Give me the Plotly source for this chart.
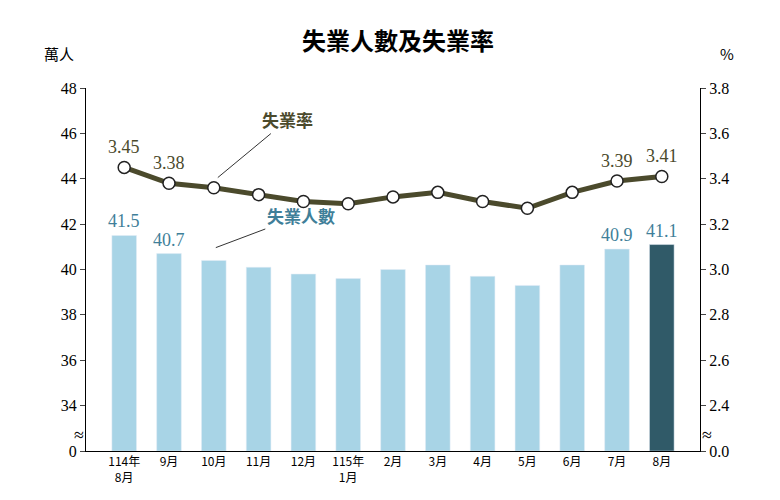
import plotly.graph_objs as go

months = ['114年<br>8月', '9月', '10月', '11月', '12月', '115年<br>1月', '2月', '3月', '4月', '5月', '6月', '7月', '8月']
persons = [41.5, 40.7, 40.4, 40.1, 39.8, 39.6, 40.0, 40.2, 39.7, 39.3, 40.2, 40.9, 41.1]
rate = [3.45, 3.38, 3.36, 3.33, 3.30, 3.29, 3.32, 3.34, 3.30, 3.27, 3.34, 3.39, 3.41]

left_vals = [32, 34, 36, 38, 40, 42, 44, 46, 48]
left_text = ['0', '34', '36', '38', '40', '42', '44', '46', '48']
right_vals = [2.2, 2.4, 2.6, 2.8, 3.0, 3.2, 3.4, 3.6, 3.8]
right_text = ['0.0', '2.4', '2.6', '2.8', '3.0', '3.2', '3.4', '3.6', '3.8']

font = 'Noto Sans CJK TC'
bar_colors = ['#a8d4e6'] * (len(persons) - 1) + ['#305a68']

fig = go.Figure()
fig.add_trace(go.Bar(x=months, y=[p - 32 for p in persons], base=32,
                     marker=dict(color=bar_colors), width=0.55, yaxis='y'))
fig.add_trace(go.Scatter(x=months, y=rate, yaxis='y2', mode='lines+markers',
                         line=dict(color='#4b4a2c', width=5),
                         marker=dict(size=12, color='white', line=dict(color='#222', width=1.5))))

# value labels
for i in [0, 1, 11, 12]:
  fig.add_annotation(x=months[i], y=persons[i], text=f'{persons[i]:.1f}', yref='y',
                     showarrow=False, yshift=14, font=dict(size=18, color='#3f7f99', family='Liberation Serif'))
  fig.add_annotation(x=months[i], y=rate[i], text=f'{rate[i]:.2f}', yref='y2',
                     showarrow=False, yshift=20, font=dict(size=18, color='#4b4a2c', family='Liberation Serif'))

fig.add_annotation(x=months[2], y=3.37, yref='y2', ax=70, ay=-58, text='<b>失業率</b>', xshift=4, yshift=8,
                   arrowhead=0, arrowwidth=1, arrowcolor='#333', font=dict(size=17, color='#4b4a2c', family=font))
fig.add_annotation(x=months[2], y=40.7, yref='y', ax=85, ay=-32, text='<b>失業人數</b>', xshift=2, yshift=6,
                   arrowhead=0, arrowwidth=1, arrowcolor='#333', font=dict(size=17, color='#3f7f99', family=font))

fig.add_annotation(x=0, y=1.06, xref='paper', yref='paper', xanchor='right', yanchor='bottom', text='萬人',
                   showarrow=False, xshift=-10, font=dict(size=15, family=font))
fig.add_annotation(x=1, y=1.06, xref='paper', yref='paper', xanchor='left', yanchor='bottom', text='%',
                   showarrow=False, xshift=18, font=dict(size=15, family=font))
for xp in [0, 1]:
  fig.add_annotation(x=xp, y=32.7, xref='paper', yref='y', text='≈', showarrow=False,
                     xshift=-14 if xp == 0 else 14, font=dict(size=18))

fig.update_layout(
  title=dict(text='<b>失業人數及失業率</b>', x=0.5, y=0.95, font=dict(size=24, family=font, color='black')),
  width=780, height=500, showlegend=False, bargap=0.3,
  plot_bgcolor='white', paper_bgcolor='white',
  margin=dict(l=78, r=88, t=80, b=57),
  font=dict(family='Liberation Serif', size=16, color='black'),
  xaxis=dict(showline=True, linecolor='black', ticks='', tickfont=dict(size=12, family=font), automargin=False),
  yaxis=dict(range=[32, 48], tickvals=left_vals, ticktext=left_text, showgrid=False, automargin=False,
             showline=True, linecolor='black', ticks='outside', ticklen=5),
  yaxis2=dict(range=[2.2, 3.8], tickvals=right_vals, ticktext=right_text, overlaying='y', side='right',
              showgrid=False, showline=True, linecolor='black', ticks='outside', ticklen=5, automargin=False),
)

fig.write_html('out.html')
